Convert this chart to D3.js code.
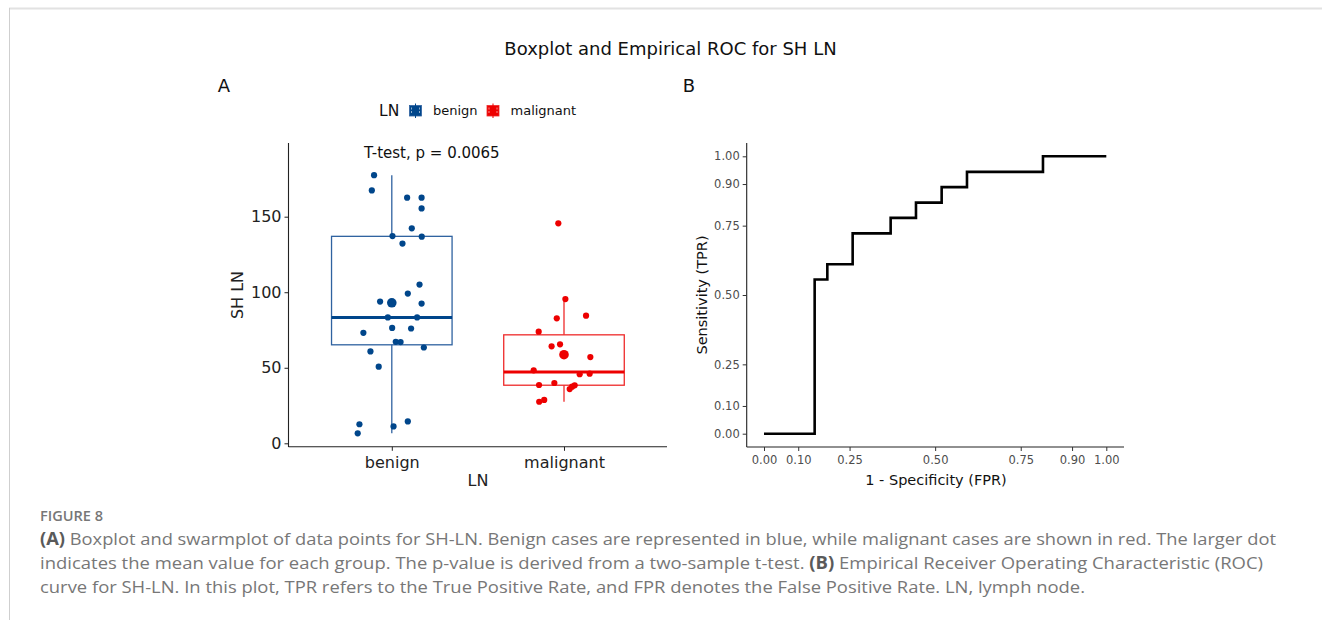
<!DOCTYPE html>
<html><head><meta charset="utf-8">
<script src="https://cdn.jsdelivr.net/npm/d3@7"></script>
<style>
html,body{margin:0;padding:0;background:#fff;}
svg{display:block;}
</style></head>
<body>
<svg id="chart" width="1322" height="620"></svg>
<script>
// ---------------- data ----------------
const categories = ["benign", "malignant"];
const groupColors = ["#00468B", "#ED0000"];
const boxColors = ["#2F62A0", "#EE2A2A"];

const benignValues = [177.5,167.4,162.6,162.6,155.5,142.3,137.2,136.8,132.2,105.1,99.1,93.8,92.5,83.3,83.3,76.4,76.0,73.1,67.2,67.0,63.4,60.8,50.7,12.6,14.5,11.2,6.6];
const benignJitter = [-0.103,-0.116,0.089,0.173,0.173,0.116,0.004,0.174,0.062,0.161,0.093,-0.068,0.173,-0.023,0.147,0.002,0.112,-0.165,0.023,0.051,0.186,-0.124,-0.076,-0.188,0.093,0.010,-0.198];

const malignantValues = [145.6,95.5,84.5,82.7,73.9,64.2,65.5,57.1,48.3,45.7,46.1,38.6,39.9,35.9,37.5,38.4,27.5,28.7];
const malignantJitter = [-0.033,0.008,0.128,-0.042,-0.147,-0.072,-0.023,0.153,-0.176,0.091,0.149,-0.145,-0.056,0.033,0.047,0.062,-0.144,-0.115];

const yTicksA = [0, 50, 100, 150];
const pValueLabel = "T-test, p = 0.0065";

// Empirical ROC corner points (step after)
const rocFPR = [0, 0.148, 0.185, 0.259, 0.370, 0.444, 0.519, 0.593, 0.815, 1.0];
const rocTPR = [0, 0.556, 0.611, 0.722, 0.778, 0.833, 0.889, 0.944, 1.0, 1.0];
const rocTicks = [0, 0.10, 0.25, 0.50, 0.75, 0.90, 1.00];

const captionLines = [
  [{b:true,t:"(A)"},{t:" Boxplot and swarmplot of data points for SH-LN. Benign cases are represented in blue, while malignant cases are shown in red. The larger dot"}],
  [{t:"indicates the mean value for each group. The p-value is derived from a two-sample t-test. "},{b:true,t:"(B)"},{t:" Empirical Receiver Operating Characteristic (ROC)"}],
  [{t:"curve for SH-LN. In this plot, TPR refers to the True Positive Rate, and FPR denotes the False Positive Rate. LN, lymph node."}]
];
const captionWidths = [1236, 1223, 1045];

// ---------------- drawing ----------------
const svg = d3.select("#chart");
const F = "'DejaVu Sans', sans-serif";

// frame
svg.append("line").attr("x1",9).attr("x2",1322).attr("y1",8.5).attr("y2",8.5).attr("stroke","#e2e2e2").attr("stroke-width",2);
svg.append("line").attr("x1",9.5).attr("x2",9.5).attr("y1",8).attr("y2",620).attr("stroke","#cfcfcf").attr("stroke-width",1);

// title
svg.append("text").attr("x",670.5).attr("y",55).attr("text-anchor","middle")
  .attr("font-family",F).attr("font-size",18).attr("fill","#111").text("Boxplot and Empirical ROC for SH LN");
svg.append("text").attr("x",224).attr("y",92).attr("text-anchor","middle").attr("font-family",F).attr("font-size",18).attr("fill","#111").text("A");
svg.append("text").attr("x",689).attr("y",92).attr("text-anchor","middle").attr("font-family",F).attr("font-size",18).attr("fill","#111").text("B");

// ---------- Panel A ----------
const xA = d3.scaleLinear().domain([0,1]).range([391.8, 564]);
const yA = d3.scaleLinear().domain([0,150]).range([443.3, 216.7]);
const gA = svg.append("g");

// axes
const axLeftA = d3.axisLeft(yA).tickValues(yTicksA).tickSize(4).tickPadding(3);
const gyA = gA.append("g").attr("transform","translate(288.5,0)").call(axLeftA);
gyA.select(".domain").attr("d","M0,143V447");
gyA.selectAll("line").attr("stroke","#222").attr("stroke-width",1);
gyA.selectAll("text").attr("font-family",F).attr("font-size",16).attr("fill","#222");
gyA.select(".domain").attr("stroke","#222").attr("stroke-width",1.1);

const axBotA = d3.axisBottom(xA).tickValues([0,1]).tickFormat(i => categories[i]).tickSize(4).tickPadding(3);
const gxA = gA.append("g").attr("transform","translate(0,446.8)").call(axBotA);
gxA.select(".domain").attr("d","M288.5,0H667").attr("stroke","#222").attr("stroke-width",1.1);
gxA.selectAll("line").attr("stroke","#222");
gxA.selectAll("text").attr("font-family",F).attr("font-size",16).attr("fill","#222").attr("dy","0.9em");

gA.append("text").attr("x",478).attr("y",486).attr("text-anchor","middle").attr("font-family",F).attr("font-size",16).attr("fill","#222").text("LN");
gA.append("text").attr("transform","translate(243,295) rotate(-90)").attr("text-anchor","middle").attr("font-family",F).attr("font-size",16).attr("fill","#222").text("SH LN");

// boxplots
const groups = [
  {vals: benignValues, jit: benignJitter},
  {vals: malignantValues, jit: malignantJitter}
];
groups.forEach((g, i) => {
  const s = g.vals.slice().sort(d3.ascending);
  const q1 = d3.quantile(s, 0.25), med = d3.quantile(s, 0.5), q3 = d3.quantile(s, 0.75);
  const iqr = q3 - q1;
  const lo = d3.min(s.filter(v => v >= q1 - 1.5*iqr));
  const hi = d3.max(s.filter(v => v <= q3 + 1.5*iqr));
  const mean = d3.mean(s);
  const hw = 0.35;
  const c = boxColors[i];
  const bx = gA.append("g");
  bx.append("line").attr("x1",xA(i)).attr("x2",xA(i)).attr("y1",yA(hi)).attr("y2",yA(q3)).attr("stroke",c).attr("stroke-width",1.3);
  bx.append("line").attr("x1",xA(i)).attr("x2",xA(i)).attr("y1",yA(q1)).attr("y2",yA(lo)).attr("stroke",c).attr("stroke-width",1.3);
  bx.append("rect").attr("x",xA(i-hw)).attr("width",xA(i+hw)-xA(i-hw)).attr("y",yA(q3)).attr("height",yA(q1)-yA(q3))
    .attr("fill","none").attr("stroke",c).attr("stroke-width",1.3);
  bx.append("line").attr("x1",xA(i-hw)).attr("x2",xA(i+hw)).attr("y1",yA(med)).attr("y2",yA(med)).attr("stroke",groupColors[i]).attr("stroke-width",3);
  // points
  gA.append("g").selectAll("circle").data(g.vals).join("circle")
    .attr("cx",(d,k) => xA(i + g.jit[k])).attr("cy",d => yA(d)).attr("r",3.1).attr("fill",groupColors[i]);
  // mean
  gA.append("circle").attr("cx",xA(i)).attr("cy",yA(mean)).attr("r",4.8).attr("fill",groupColors[i]);
});

gA.append("text").attr("x",364).attr("y",158).attr("font-family",F).attr("font-size",15).attr("fill","#111").text(pValueLabel);

// legend
const lg = svg.append("g");
lg.append("text").attr("x",379).attr("y",116).attr("font-family",F).attr("font-size",15.5).attr("fill","#111").text("LN");
const legX = [409.5, 487];
categories.forEach((c,i) => {
  const x0 = legX[i];
  lg.append("rect").attr("x",x0).attr("y",105.5).attr("width",12).attr("height",10.5).attr("fill",groupColors[i]).attr("stroke",boxColors[i]).attr("stroke-width",0.8);
  lg.append("line").attr("x1",x0+6).attr("x2",x0+6).attr("y1",103.5).attr("y2",118).attr("stroke",groupColors[i]).attr("stroke-width",1);
  lg.append("line").attr("x1",x0+2).attr("x2",x0+2).attr("y1",107.5).attr("y2",114).attr("stroke","#fff").attr("stroke-width",0.8).attr("stroke-dasharray","2,1.5").attr("opacity",0.7);
  lg.append("line").attr("x1",x0+10).attr("x2",x0+10).attr("y1",107.5).attr("y2",114).attr("stroke","#fff").attr("stroke-width",0.8).attr("stroke-dasharray","2,1.5").attr("opacity",0.7);
  lg.append("text").attr("x",x0+23.5).attr("y",115).attr("font-family",F).attr("font-size",13).attr("fill","#111").text(c);
});

// ---------- Panel B ----------
const xB = d3.scaleLinear().domain([0,1]).range([764, 1106.3]);
const yB = d3.scaleLinear().domain([0,1]).range([433.7, 156.3]);
const gB = svg.append("g");
const fmt = d3.format(".2f");

const gyB = gB.append("g").attr("transform","translate(746.7,0)").call(d3.axisLeft(yB).tickValues(rocTicks).tickFormat(fmt).tickSize(4).tickPadding(3));
gyB.select(".domain").attr("d","M0,143V447").attr("stroke","#222").attr("stroke-width",1.1);
gyB.selectAll("line").attr("stroke","#333");
gyB.selectAll("text").attr("font-family",F).attr("font-size",11.5).attr("fill","#4d4d4d");

const gxB = gB.append("g").attr("transform","translate(0,447)").call(d3.axisBottom(xB).tickValues(rocTicks).tickFormat(fmt).tickSize(4).tickPadding(3));
gxB.select(".domain").attr("d","M746.7,0H1124").attr("stroke","#222").attr("stroke-width",1.1);
gxB.selectAll("line").attr("stroke","#333");
gxB.selectAll("text").attr("font-family",F).attr("font-size",11.5).attr("fill","#4d4d4d").attr("dy","0.9em");

gB.append("text").attr("x",936).attr("y",485).attr("text-anchor","middle").attr("font-family",F).attr("font-size",14.5).attr("fill","#111").text("1 - Specificity (FPR)");
gB.append("text").attr("transform","translate(707,295) rotate(-90)").attr("text-anchor","middle").attr("font-family",F).attr("font-size",14.5).attr("fill","#111").text("Sensitivity (TPR)");

const rocData = rocFPR.map((f,i) => [f, rocTPR[i]]);
gB.append("path").datum(rocData)
  .attr("d", d3.line().x(d => xB(d[0])).y(d => yB(d[1])).curve(d3.curveStepAfter))
  .attr("fill","none").attr("stroke","#000").attr("stroke-width",2.6).attr("stroke-linejoin","miter");

// ---------- caption ----------
const CF = "'Open Sans', 'Lato', sans-serif";
svg.append("text").attr("x",40).attr("y",521).attr("font-family",CF).attr("font-size",14).attr("font-weight",600).attr("fill","#777")
  .attr("textLength",63).attr("lengthAdjust","spacingAndGlyphs").text("FIGURE 8");
captionLines.forEach((line, i) => {
  const t = svg.append("text").attr("x",40).attr("y",545 + i*24).attr("font-family",CF).attr("font-size",17).attr("fill","#777")
    .attr("textLength", captionWidths[i]).attr("lengthAdjust","spacingAndGlyphs");
  line.forEach(seg => {
    const ts = t.append("tspan").text(seg.t);
    if (seg.b) ts.attr("font-weight",700).attr("fill","#5a5a5a");
  });
});
</script>
</body></html>
